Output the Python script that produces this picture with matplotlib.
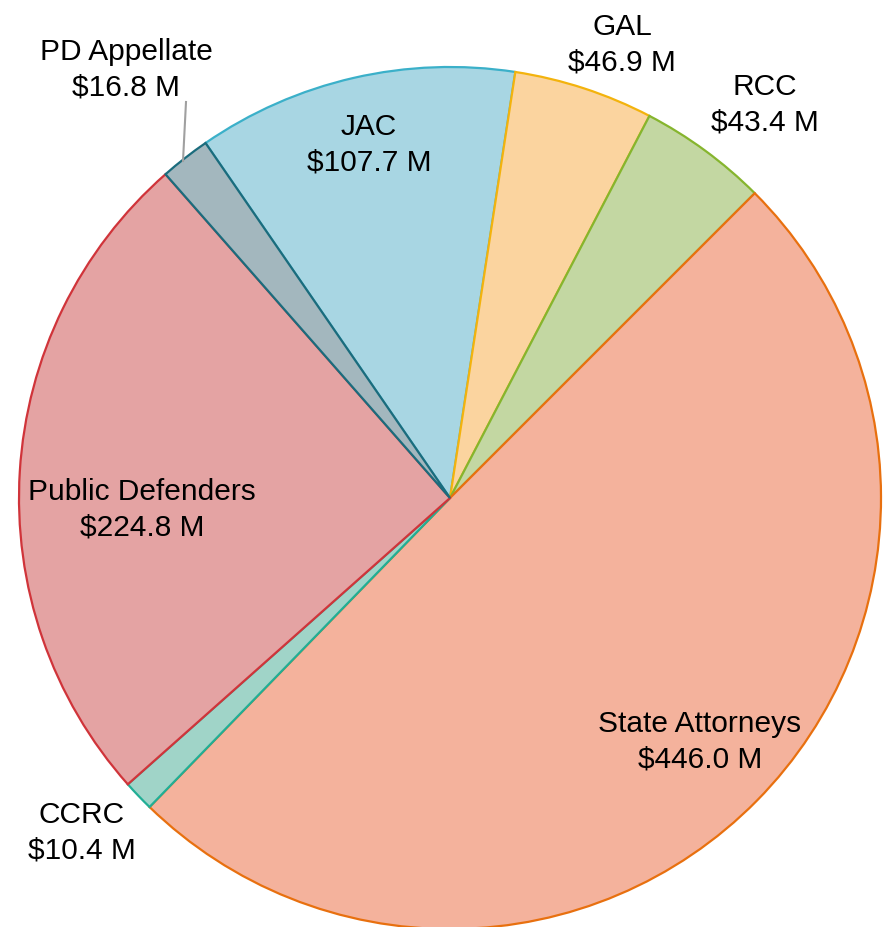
import matplotlib
matplotlib.use('Agg')
from matplotlib import pyplot as plt

names = ['State Attorneys', 'CCRC', 'Public Defenders', 'PD Appellate', 'JAC', 'GAL', 'RCC']
values = [446.0, 10.4, 224.8, 16.8, 107.7, 46.9, 43.4]
fills = ['#F4B29C', '#A0D4C8', '#E4A3A3', '#A3B7BE', '#A8D6E3', '#FBD49F', '#C3D7A2']
edges = ['#E8700F', '#21AE95', '#D0343A', '#1B6C7D', '#3BB0C9', '#F3B30D', '#86B52E']
# stacking so that shared borders take the colour seen in the original
layer = [4, 5, 6, 7, 1, 2, 3]

plt.rcParams['font.family'] = ['Liberation Sans Narrow', 'Liberation Sans', 'DejaVu Sans']

fig = plt.figure(figsize=(8.88, 9.28), dpi=100)
ax = fig.add_axes([0, 0, 1, 1])

wedges, _ = ax.pie(values, colors=fills, startangle=45, counterclock=False,
                   center=(450, 429), radius=431, frame=True)
for w, ec, z in zip(wedges, edges, layer):
    w.set_edgecolor(ec)
    w.set_linewidth(1.6)
    w.set_zorder(z)
ax.set_xlim(0, 888)
ax.set_ylim(0, 928)
ax.set_aspect('equal')
ax.axis('off')

# label positions (pixel coords, y up)
label_pos = {
    'State Attorneys': (700, 186),
    'CCRC': (82, 95),
    'Public Defenders': (142, 418),
    'PD Appellate': (126, 858),
    'JAC': (369, 783),
    'GAL': (622, 883),
    'RCC': (765, 823),
}
for n, v in zip(names, values):
    x, y = label_pos[n]
    ax.text(x, y, f'{n}\n${v:.1f} M', ha='center', va='center', fontsize=21.5,
            linespacing=1.35, color='black', zorder=10)

# leader line for PD Appellate
ax.plot([183, 186], [766, 825], color='#A0A0A0', lw=1.5, zorder=9)

fig.savefig('out.png', dpi=100)
